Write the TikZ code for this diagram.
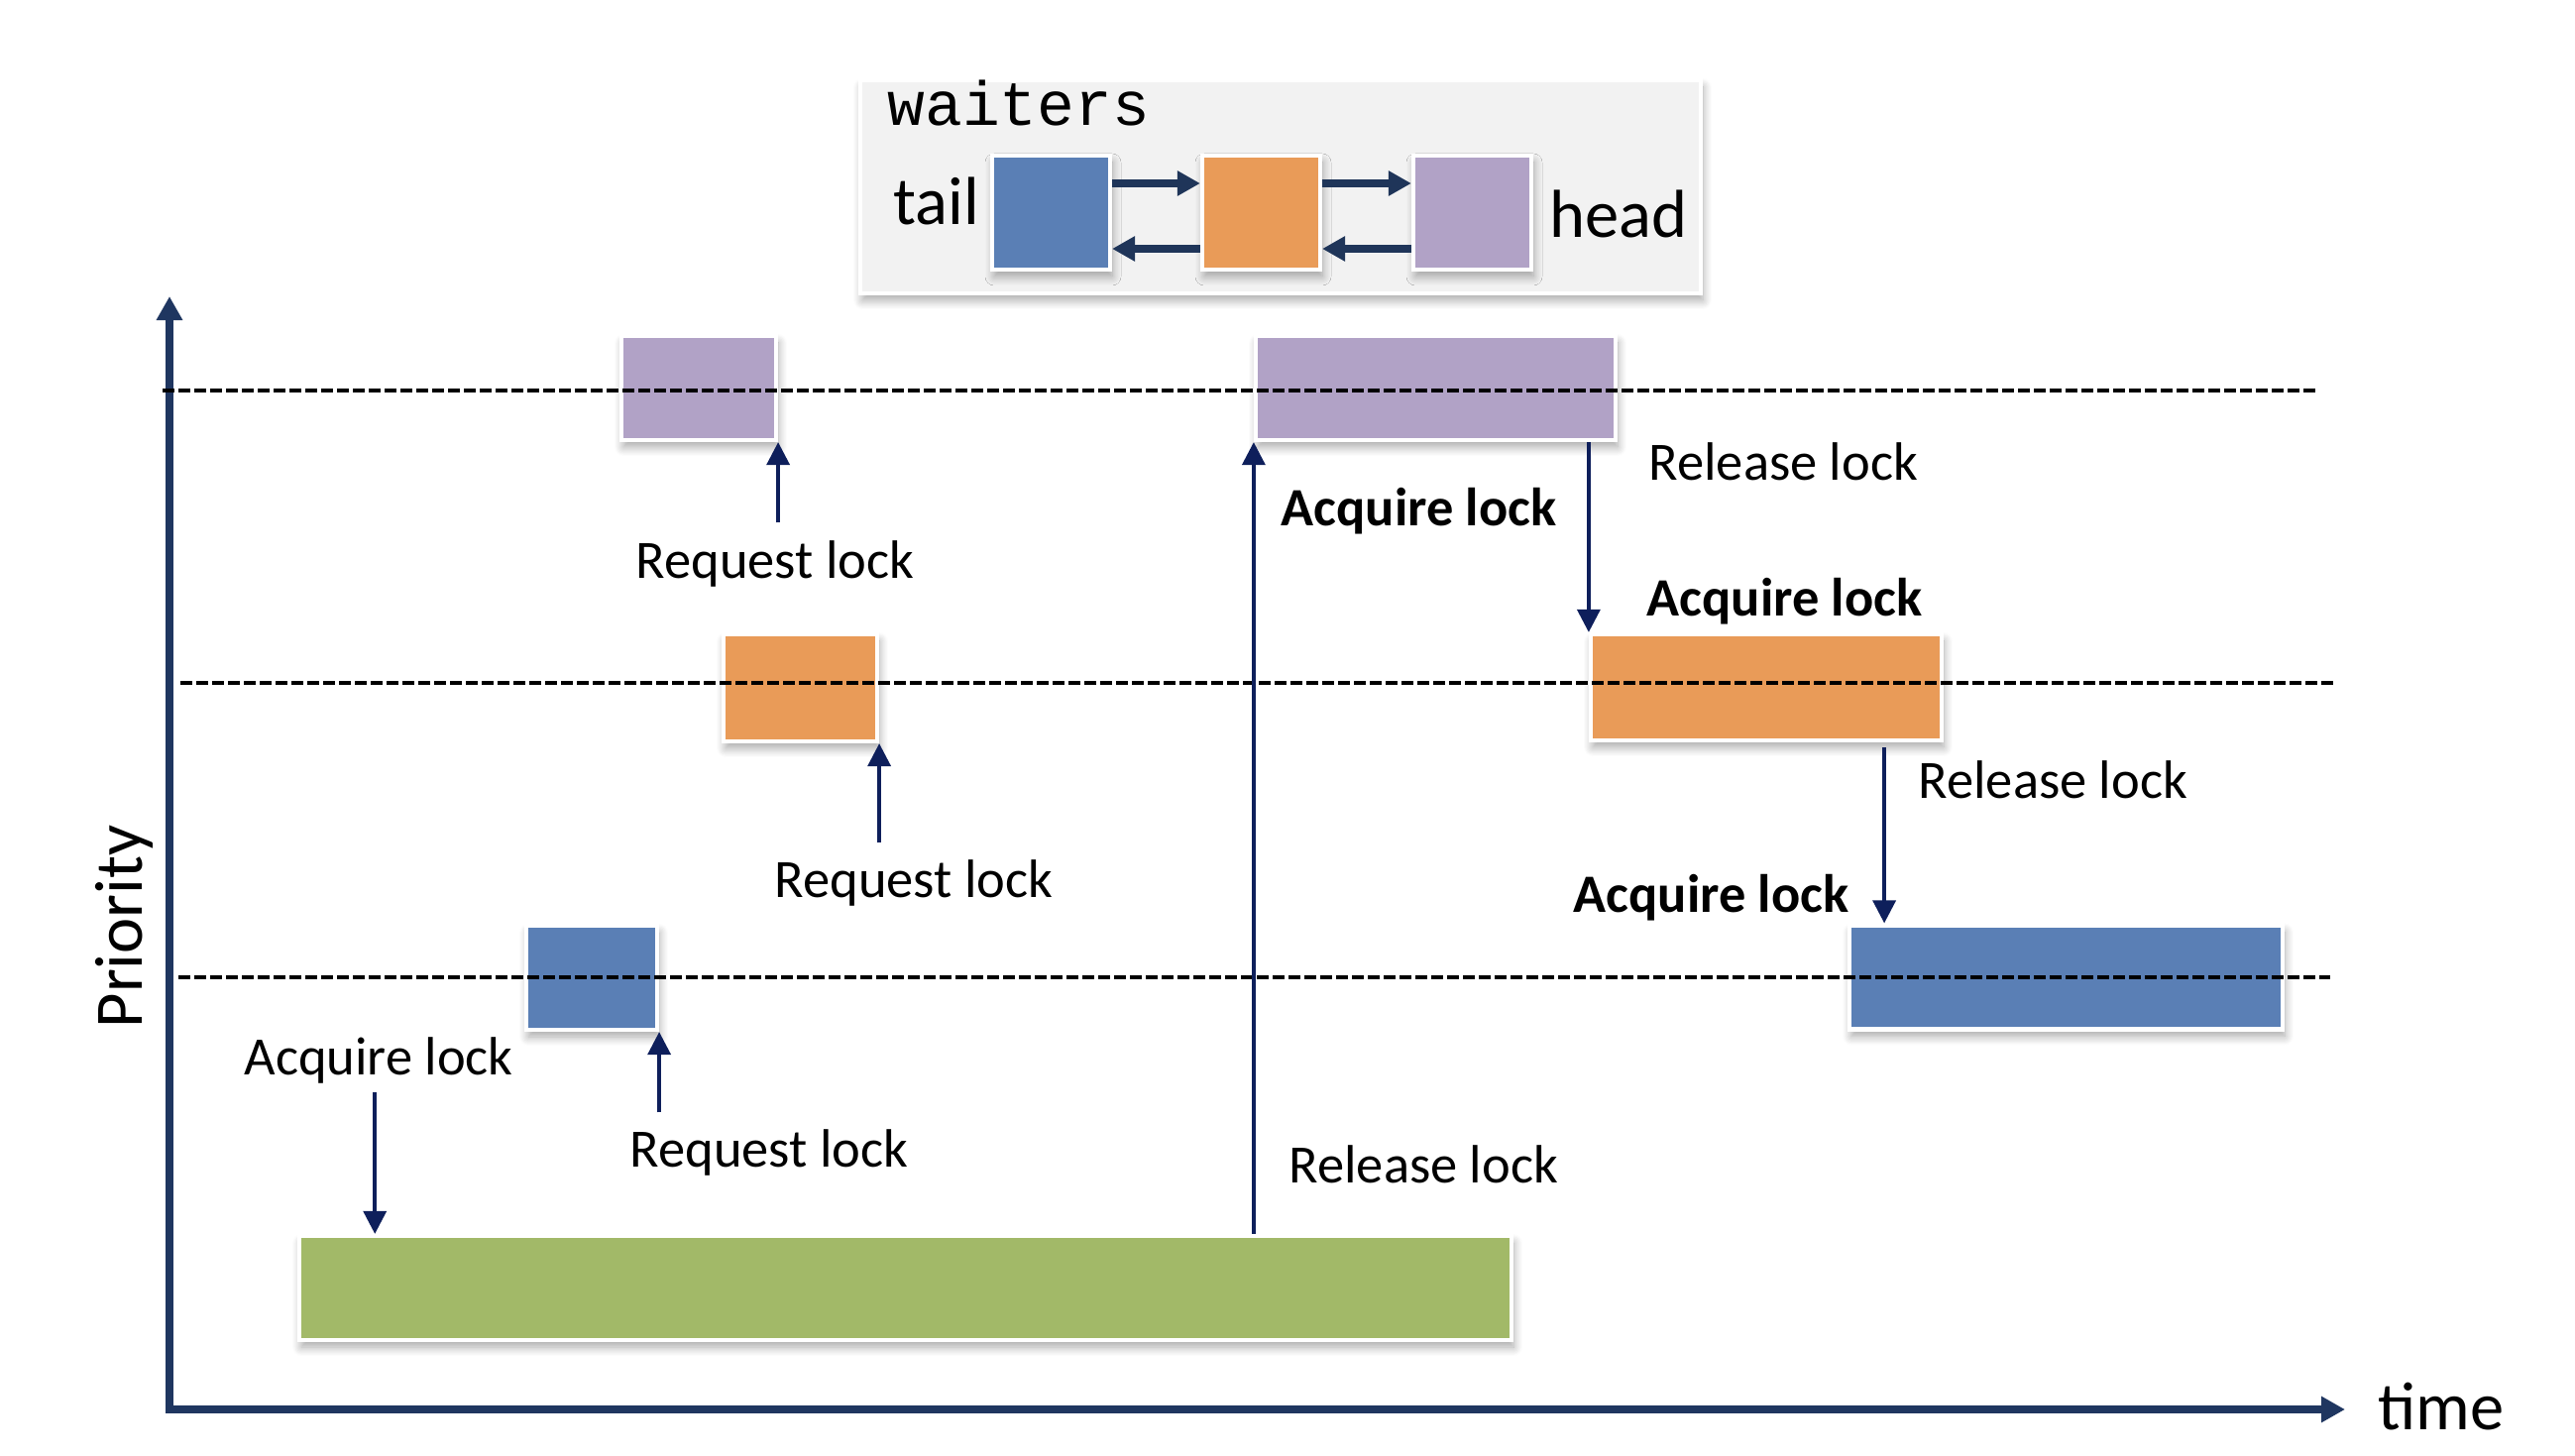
\documentclass[tikz,border=0pt]{standalone}
\usepackage{fontspec}
\setmainfont{Carlito}
\newfontfamily\waitfont{Liberation Mono}
\usepackage{tikz}
\usetikzlibrary{arrows.meta, positioning, calc, shadows.blur}

\definecolor{axisblue}{HTML}{1F3660}
\definecolor{arrowblue}{HTML}{0E1F5B}
\definecolor{linkblue}{HTML}{1F3559}
\definecolor{taskblue}{HTML}{5A7FB5}
\definecolor{taskorange}{HTML}{E99B58}
\definecolor{taskpurple}{HTML}{B1A2C6}
\definecolor{taskgreen}{HTML}{A2B968}
\definecolor{panelgray}{HTML}{F2F2F2}

\begin{document}
\begin{tikzpicture}[
    softshadow/.style={blur shadow={shadow xshift=0.2mm, shadow yshift=-0.7mm, shadow blur radius=0.9mm, shadow blur steps=8, shadow opacity=35}},
    task/.style={rectangle, draw=white, line width=1.2pt, inner sep=0pt, minimum height=1.05cm, softshadow},
    bluebox/.style={task, fill=taskblue},
    orangebox/.style={task, fill=taskorange},
    purplebox/.style={task, fill=taskpurple},
    greenbox/.style={task, fill=taskgreen},
    lbl/.style={font=\fontsize{15.5}{18}\selectfont, inner sep=0pt, anchor=base west},
    boldlbl/.style={lbl, font=\fontsize{15.5}{18}\selectfont\bfseries},
    biglbl/.style={font=\fontsize{19.5}{22}\selectfont, inner sep=0pt, anchor=base west},
    arrow/.style={-{Triangle[length=2.3mm, width=2.3mm]}, line width=1pt, arrowblue},
    link/.style={-{Triangle[length=2.3mm, width=2.4mm]}, line width=2pt, linkblue},
    axis/.style={-{Triangle[length=2.4mm, width=2.5mm]}, line width=2.2pt, axisblue},
    level/.style={line width=1.1pt, dash pattern=on 1.2mm off 0.4mm}
]
\useasboundingbox (0,0) rectangle (25.98,14.68);

% Waiters list
\node[rectangle, draw=white, line width=1.2pt, fill=panelgray, minimum width=8.48cm, minimum height=2.15cm,
    softshadow] (panel) at (12.92, 12.795) {};
\node[font=\waitfont\fontsize{17.9}{20}\selectfont, inner sep=0pt, anchor=base west] (waiters) at (8.95, 13.41) {waiters};

\node[bluebox, minimum width=1.19cm, minimum height=1.15cm] (qtail) at (10.605, 12.535) {};
\node[orangebox, minimum width=1.19cm, minimum height=1.15cm] (qmid) at (12.725, 12.535) {};
\node[purplebox, minimum width=1.19cm, minimum height=1.15cm] (qhead) at (14.855, 12.535) {};

\node[biglbl] (tail) at (9.01, 12.41) {tail};
\node[biglbl] (head) at (15.63, 12.28) {head};

\draw[link] ([yshift=2.95mm]qtail.east) -- ([yshift=2.95mm]qmid.west);
\draw[link] ([yshift=2.95mm]qmid.east) -- ([yshift=2.95mm]qhead.west);
\draw[link] ([yshift=-3.65mm]qmid.west) -- ([yshift=-3.65mm]qtail.east);
\draw[link] ([yshift=-3.65mm]qhead.west) -- ([yshift=-3.65mm]qmid.east);

% Axes
\coordinate (origin) at (1.71, 0.46);
\coordinate (ytop) at (1.71, 11.69);
\coordinate (xend) at (23.66, 0.46);
\draw[axis] ([yshift=-1.1pt]origin) -- (ytop);
\draw[axis] (origin) -- (xend);
\node[biglbl, rotate=90, anchor=base] (prio) at (1.43, 5.33) {Priority};
\node[biglbl] (time) at (23.99, 0.26) {time};

% Lock holders
\node[purplebox, minimum width=1.56cm] (p1) at (7.05, 10.765) {};
\node[purplebox, minimum width=3.63cm] (p2) at (14.485, 10.765) {};
\node[orangebox, minimum width=1.55cm, minimum height=1.08cm] (o1) at (8.075, 7.74) {};
\node[orangebox, minimum width=3.54cm, minimum height=1.07cm] (o2) at (17.82, 7.745) {};
\node[bluebox, minimum width=1.32cm] (b1) at (5.97, 4.815) {};
\node[bluebox, minimum width=4.37cm] (b2) at (20.845, 4.82) {};
\node[greenbox, minimum width=12.23cm] (g) at (9.135, 1.685) {};

% Priority levels
\draw[level] (1.64, 10.74) -- (23.36, 10.74);
\draw[level] (1.82, 7.79) -- (23.56, 7.79);
\draw[level] (1.80, 4.82) -- (23.51, 4.82);

% Labels
\node[lbl] (req1) at (6.41, 8.85) {Request lock};
\node[lbl] (req2) at (7.81, 5.63) {Request lock};
\node[lbl] (req3) at (6.35, 2.91) {Request lock};
\node[lbl] (acq0) at (2.46, 3.84) {Acquire lock};
\node[lbl] (rel0) at (13.00, 2.75) {Release lock};
\node[boldlbl] (acq1) at (12.92, 9.38) {Acquire lock};
\node[lbl] (rel1) at (16.63, 9.84) {Release lock};
\node[boldlbl] (acq2) at (16.61, 8.47) {Acquire lock};
\node[lbl] (rel2) at (19.35, 6.63) {Release lock};
\node[boldlbl] (acq3) at (15.87, 5.48) {Acquire lock};

% Arrows
\draw[arrow] ($(req1.north -| p1.south east)+(0,0.17)$) -- (p1.south east);
\draw[arrow] ($(req2.north -| o1.south east)+(0,0.16)$) -- (o1.south east);
\draw[arrow] ($(req3.north -| b1.south east)+(0,0.16)$) -- (b1.south east);
\draw[arrow] ($(acq0.south)+(-0.04,-0.09)$) -- ($(acq0.south |- g.north)+(-0.04,0)$);
\draw[arrow] (p2.south west |- g.north) -- (p2.south west);
\draw[arrow] (o2.north west |- p2.south) -- (o2.north west);
\coordinate (handoff) at ($(o2.south east)+(-0.60,-0.05)$);
\draw[arrow] (handoff) -- (handoff |- b2.north);

\end{tikzpicture}
\end{document}
